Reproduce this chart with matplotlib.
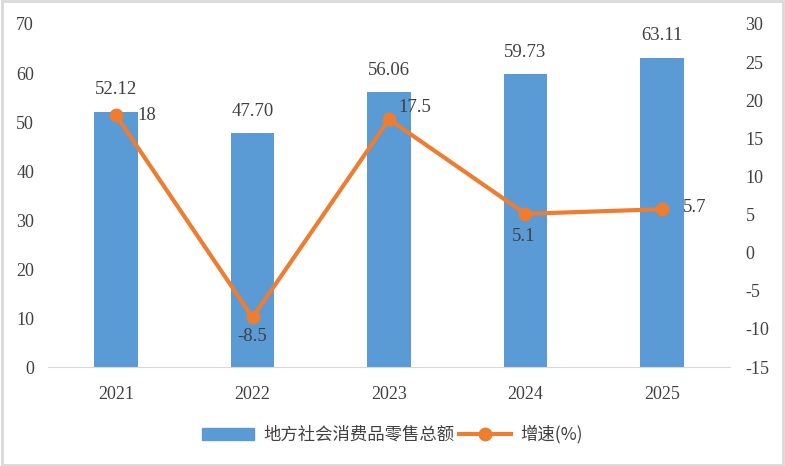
import matplotlib.pyplot as plt
from matplotlib.patches import Rectangle
from matplotlib.lines import Line2D
import numpy as np

years = ['2021', '2022', '2023', '2024', '2025']
retail = [52.12, 47.70, 56.06, 59.73, 63.11]
growth = [18, -8.5, 17.5, 5.1, 5.7]
retail_labels = ['52.12', '47.70', '56.06', '59.73', '63.11']
growth_labels = ['18', '-8.5', '17.5', '5.1', '5.7']

plt.rcParams['font.family'] = ['Liberation Serif', 'Noto Sans CJK SC']
plt.rcParams['axes.unicode_minus'] = False
txt = '#404040'

fig = plt.figure(figsize=(7.85, 4.66), dpi=100)
ax = fig.add_axes([0.0611, 0.2124, 0.869, 0.7361])
x = np.arange(len(years))

ax.bar(x, retail, width=0.32, color='#5B9BD5', zorder=2)
ax.set_ylim(0, 70)
ax.set_xlim(-0.5, len(years) - 0.5)
ax.set_yticks(range(0, 71, 10))
ax.set_xticks(x)
ax.set_xticklabels(years)
for s in ['top', 'right', 'left']:
    ax.spines[s].set_visible(False)
ax.spines['bottom'].set_color('#D9D9D9')
ax.tick_params(axis='both', length=0, labelsize=13, colors=txt)
ax.tick_params(axis='y', pad=10)
ax.tick_params(axis='x', pad=14)

# 柱子上方数值
for xi, v, lab in zip(x, retail, retail_labels):
    ax.annotate(lab, (xi, v), xytext=(0, 16), textcoords='offset points',
                ha='center', va='center', fontsize=13.5, color=txt)

ax2 = ax.twinx()
ax2.set_ylim(-15, 30)
ax2.set_yticks(range(-15, 31, 5))
for s in ax2.spines.values():
    s.set_visible(False)
ax2.tick_params(axis='y', length=0, labelsize=13, colors=txt, pad=11)
ax2.plot(x, growth, color='#ED7D31', lw=3, marker='o', ms=9, zorder=3)

# 折线数值标签
offsets = [(15, 0, 'left'), (0, -13.5, 'center'), (6.5, 8.5, 'left'),
           (-1.5, -16.5, 'center'), (15, 1, 'left')]
for xi, v, lab, (dx, dy, ha) in zip(x, growth, growth_labels, offsets):
    ax2.annotate(lab, (xi, v), xytext=(dx, dy), textcoords='offset points',
                 ha=ha, va='center', fontsize=13.5, color=txt)

handles = [Rectangle((0, 0), 1, 1, color='#5B9BD5'),
           Line2D([0], [0], color='#ED7D31', lw=3, marker='o', ms=9)]
fig.legend(handles, ['地方社会消费品零售总额', '增速(%)'], loc='center',
           bbox_to_anchor=(0.5, 0.068), ncol=2, frameon=False,
           handlelength=3.0, columnspacing=0.3, handletextpad=0.5,
           prop={'family': ['Noto Sans CJK SC'], 'size': 12.5}, labelcolor=txt)

fig.patches.append(Rectangle((0.002, 0.003), 0.996, 0.994, transform=fig.transFigure,
                             fill=False, edgecolor='#D9D9D9', lw=2))

plt.savefig('out.png', dpi=100)
